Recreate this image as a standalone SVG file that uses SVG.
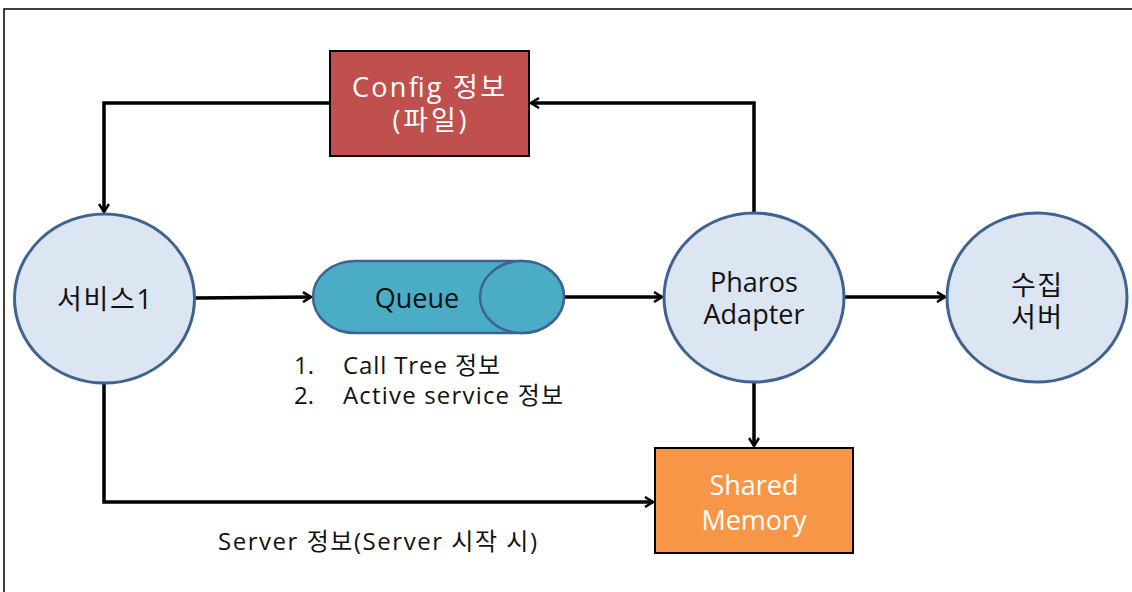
<svg xmlns="http://www.w3.org/2000/svg" width="1132" height="592" viewBox="0 0 1132 592">
<defs>
<style>
.t{font-family:"Open Sans","Noto Sans CJK KR",sans-serif;font-size:27px;fill:#111;text-anchor:middle}
.w{fill:#fff}
.s{font-size:24px;text-anchor:start}
.c{fill:#DCE6F2;stroke:#3F6391;stroke-width:3}
.r{stroke:#000;stroke-width:2}
.e{fill:none;stroke:#000;stroke-width:3.5}
</style>
<marker id="a" viewBox="0 0 12 12" refX="10" refY="6" markerWidth="12" markerHeight="12" markerUnits="userSpaceOnUse" orient="auto">
<polyline points="2,1 10,6 2,11" fill="none" stroke="#000" stroke-width="2.5"/>
</marker>
</defs>
<rect x="0" y="0" width="1132" height="592" fill="#fff"/>
<rect x="4" y="9" width="1140" height="600" fill="none" stroke="#000" stroke-width="1.5"/>
<g id="connectors">
<path class="e" d="M330,103 H104 V212" marker-end="url(#a)"/>
<path class="e" d="M754,213 V103 H531" marker-end="url(#a)"/>
<path class="e" d="M195,298 L311,297" marker-end="url(#a)"/>
<path class="e" d="M564,297 H662" marker-end="url(#a)"/>
<path class="e" d="M844,297 H945" marker-end="url(#a)"/>
<path class="e" d="M754,382 V446" marker-end="url(#a)"/>
<path class="e" d="M104,383 V502 H653" marker-end="url(#a)"/>
</g>
<g id="config">
<rect class="r" x="330" y="51" width="199" height="105" fill="#C0504D"/>
<text class="t w" x="428.5" y="97" textLength="153">Config 정보</text>
<text class="t w" x="429.5" y="130" textLength="74">(파일)</text>
</g>
<g id="service1">
<ellipse class="c" cx="104.5" cy="298.5" rx="90" ry="84.5"/>
<text class="t" x="104.5" y="309" textLength="95">서비스1</text>
</g>
<g id="queue">
<path d="M355,261 H522 A42,36 0 0 1 522,333 H355 A42,36 0 0 1 355,261 Z" fill="#4BACC6" stroke="#3F6391" stroke-width="2.5"/>
<ellipse cx="522" cy="297" rx="42" ry="36" fill="#4BACC6" stroke="#3F6391" stroke-width="2.5"/>
<text class="t" x="417" y="308">Queue</text>
</g>
<g id="pharos">
<ellipse class="c" cx="754" cy="297.5" rx="90" ry="84.5"/>
<text class="t" x="754" y="292">Pharos</text>
<text class="t" x="754" y="324">Adapter</text>
</g>
<g id="collector">
<ellipse class="c" cx="1037" cy="297.5" rx="90" ry="84.5"/>
<text class="t" x="1036.5" y="295" textLength="51">수집</text>
<text class="t" x="1036.5" y="327" textLength="51">서버</text>
</g>
<g id="shared">
<rect class="r" x="655" y="448" width="198" height="105" fill="#F79646"/>
<text class="t w" x="754" y="495">Shared</text>
<text class="t w" x="754" y="530">Memory</text>
</g>
<g id="labels">
<text class="t s" x="294" y="374">1.</text>
<text class="t s" x="343" y="374" textLength="157">Call Tree 정보</text>
<text class="t s" x="294" y="404">2.</text>
<text class="t s" x="343" y="404" textLength="220">Active service 정보</text>
<text class="t s" x="218" y="550" textLength="319">Server 정보(Server 시작 시)</text>
</g>
</svg>
